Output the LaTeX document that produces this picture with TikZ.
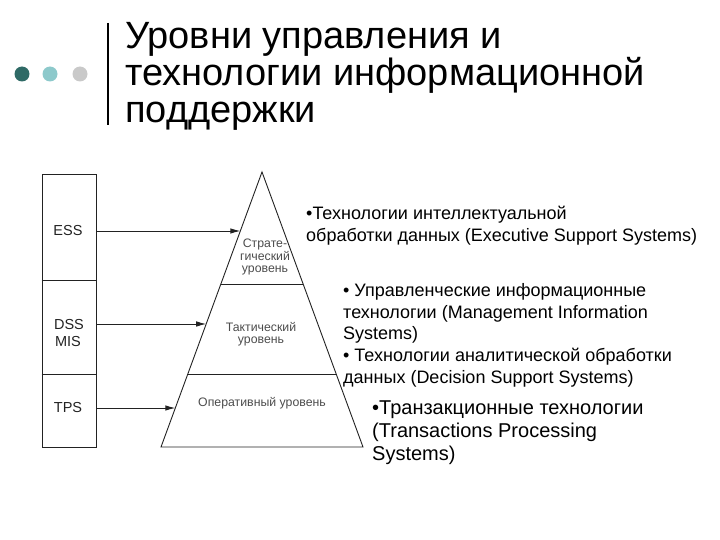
\documentclass[tikz,border=0pt]{standalone}
\usepackage{fontspec}
\setmainfont{Liberation Sans}
\usetikzlibrary{arrows.meta,calc}
\definecolor{dotA}{HTML}{2F6A66}
\definecolor{dotB}{HTML}{8DC9CB}
\definecolor{dotC}{HTML}{C9C9C9}
\definecolor{ink}{HTML}{222222}
\begin{document}
\begin{tikzpicture}[x=1pt,y=-1pt,
  titletxt/.style={anchor=base west,inner sep=0pt,font=\fontsize{38}{39}\selectfont},
  mtxt/.style={anchor=base west,inner sep=0pt,font=\fontsize{18}{21}\selectfont},
  btxt/.style={anchor=base west,inner sep=0pt,font=\fontsize{20}{23}\selectfont},
  collbl/.style={inner sep=0pt,font=\fontsize{14.5}{15}\selectfont,text=ink},
  pyrtxt/.style={inner sep=0pt,align=center,font=\fontsize{12.3}{12.5}\selectfont,text=black!70},
  thinline/.style={draw=ink,line width=0.9pt},
  arr/.style={draw=ink,line width=0.9pt,-{Latex[length=10pt,width=5.5pt]}}]
\useasboundingbox (0,0) rectangle (720,540);
% header
\fill[dotA] (22,74) circle (7.5);
\fill[dotB] (50,74) circle (7.5);
\fill[dotC] (80,74) circle (7.5);
\draw[line width=2pt] (108,23) -- (108,125);
\node[titletxt] (t1) at (125,49) {Уровни управления и};
\node[titletxt] (t2) at (125,86) {технологии информационной};
\node[titletxt] (t3) at (125,123) {поддержки};
% left column
\node[thinline,minimum width=54pt,minimum height=273pt,inner sep=0pt] (col) at (69,310.5) {};
\draw[thinline] (col.west |- 0,280) -- (col.east |- 0,280);
\draw[thinline] (col.west |- 0,374) -- (col.east |- 0,374);
\node[collbl] (ess) at (68,231) {ESS};
\node[collbl] (dss) at (69,325) {DSS};
\node[collbl] (mis) at (68,342) {MIS};
\node[collbl] (tps) at (68,408) {TPS};
% pyramid
\coordinate (apex) at (262,172);
\coordinate (bl) at (161,447);
\coordinate (br) at (363,447);
\draw[thinline] (bl) -- (apex) -- (br) -- cycle;
\draw[thinline] ($(apex)!0.4073!(bl)$) -- ($(apex)!0.4073!(br)$);
\draw[thinline] ($(apex)!0.7345!(bl)$) -- ($(apex)!0.7345!(br)$);
\coordinate (e1) at ($(apex)!0.2145!(bl)$);
\coordinate (e2) at ($(apex)!0.5527!(bl)$);
\coordinate (e3) at ($(apex)!0.8582!(bl)$);
\draw[arr] (col.east |- e1) -- (e1);
\draw[arr] (col.east |- e2) -- (e2);
\draw[arr] (col.east |- e3) -- (e3);
\node[pyrtxt] (strat) at (265,257) {Страте-\\гический\\уровень};
\node[pyrtxt] (takt) at (261,334) {Тактический\\уровень};
\node[pyrtxt] (oper) at (262,403) {Оперативный уровень};
% right texts
\node[mtxt] (a1) at (306,219) {•Технологии интеллектуальной};
\node[mtxt] (a2) at (306,241) {обработки данных (Executive Support Systems)};
\node[mtxt] (b1) at (343,296) {• Управленческие информационные};
\node[mtxt] (b2) at (343,318) {технологии (Management Information};
\node[mtxt] (b3) at (343,339) {Systems)};
\node[mtxt] (b4) at (343,361) {• Технологии аналитической обработки};
\node[mtxt] (b5) at (343,383) {данных (Decision Support Systems)};
\node[btxt] (c1) at (372,414) {•Транзакционные технологии};
\node[btxt] (c2) at (372,437) {(Transactions Processing};
\node[btxt] (c3) at (372,460) {Systems)};
\end{tikzpicture}
\end{document}
